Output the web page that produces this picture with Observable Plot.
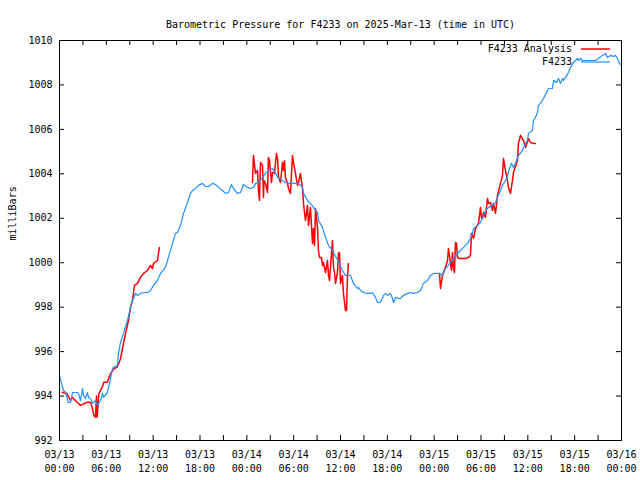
<!DOCTYPE html>
<html><head><meta charset="utf-8">
<script src="https://cdn.jsdelivr.net/npm/d3@7"></script>
<script src="https://cdn.jsdelivr.net/npm/@observablehq/plot@0.6"></script>
<style>body{margin:0;background:#fff}svg{display:block}</style>
</head><body><div id="chart"></div>
<script>
const title = "Barometric Pressure for F4233 on 2025-Mar-13 (time in UTC)";
const yLabel = "milliBars";
const seriesNames = ["F4233 Analysis", "F4233"];
const seriesColors = ["#ff0000", "#1e90ff"];
const yTicks = [992, 994, 996, 998, 1000, 1002, 1004, 1006, 1008, 1010];
const startTime = "2025-03-13T00:00:00Z";
const endTime = "2025-03-16T00:00:00Z";

// [hours since start, millibars]
const obs = [
[0,994.93],[0.51,994.25],[0.77,994.16],[1.15,993.71],[1.41,993.71],[1.67,994.16],[2.31,994.16],[2.43,994.12],[2.69,993.8],[2.95,994.34],[3.07,994.03],[3.33,993.89],[3.59,994.16],[3.72,993.94],[3.97,993.89],[4.23,993.67],[4.61,993.8],[4.87,993.58],[5.25,993.8],[5.51,994.12],[5.64,993.94],[6.15,994.16],[6.28,994.39],[6.53,994.79],[6.79,995.24],[6.92,995.29],[7.43,995.38],[7.56,995.92],[7.81,996.41],[8.2,996.82],[8.71,997.4],[9.1,997.99],[9.35,998.3],[9.74,998.62],[9.99,998.53],[10.38,998.62],[10.76,998.66],[11.27,998.66],[11.66,998.75],[12.04,998.98],[12.55,999.2],[12.94,999.52],[13.58,999.79],[13.96,1000.24],[14.48,1000.87],[14.86,1001.32],[15.12,1001.36],[15.5,1001.68],[15.89,1002.22],[16.4,1002.71],[16.78,1003.12],[17.04,1003.25],[17.42,1003.34],[17.81,1003.48],[18.32,1003.57],[18.7,1003.43],[19.09,1003.43],[19.6,1003.57],[19.98,1003.52],[20.37,1003.39],[20.88,1003.25],[21.27,1003.12],[21.65,1003.16],[22.03,1003.52],[22.29,1003.34],[22.8,1003.12],[23.19,1003.16],[23.57,1003.52],[24.08,1003.39],[24.47,1003.34],[24.85,1003.39],[25.11,1003.57],[25.49,1003.61],[26.01,1003.84],[26.39,1004.02],[26.77,1004.15],[27.29,1004.24],[27.67,1004.02],[28.06,1003.79],[28.57,1003.7],[28.95,1003.61],[29.34,1003.57],[29.85,1003.57],[30.23,1003.57],[30.62,1003.57],[31.13,1003.39],[31.26,1003.12],[31.77,1002.8],[32.15,1002.67],[32.54,1002.49],[33.05,1002.26],[33.18,1001.9],[33.69,1001.59],[34.08,1001.14],[34.46,1000.78],[34.97,1000.55],[35.36,1000.28],[35.74,1000.06],[36.25,999.65],[36.64,999.43],[37.28,999.43],[37.66,999.07],[38.18,998.84],[38.3,998.89],[38.56,998.75],[38.94,998.66],[39.46,998.62],[39.84,998.62],[40.1,998.66],[40.48,998.44],[40.74,998.21],[41.12,998.21],[41.51,998.53],[41.76,998.62],[42.02,998.53],[42.4,998.62],[42.66,998.39],[42.79,998.21],[43.04,998.44],[43.43,998.39],[43.68,998.39],[44.07,998.53],[44.58,998.62],[44.97,998.66],[45.35,998.62],[45.86,998.66],[46.25,998.75],[46.63,999.07],[47.14,999.2],[47.53,999.43],[47.91,999.52],[48.43,999.52],[48.68,999.52],[49.07,999.43],[49.45,999.74],[49.83,999.88],[50.09,1000.01],[50.47,1000.19],[50.99,1000.42],[51.37,1000.55],[51.76,1000.69],[52.27,1000.87],[52.65,1001.09],[52.91,1001.32],[53.04,1001.54],[53.55,1001.68],[53.93,1001.81],[54.32,1002.13],[54.57,1002.35],[54.96,1002.49],[55.47,1002.58],[55.86,1002.71],[56.11,1002.94],[56.5,1003.25],[56.75,1003.48],[57.14,1003.7],[57.39,1003.93],[57.65,1004.24],[57.9,1004.47],[58.16,1004.29],[58.42,1004.47],[58.8,1004.83],[59.31,1005.05],[59.7,1005.37],[59.95,1005.5],[60.08,1005.82],[60.59,1005.95],[60.72,1006.4],[60.98,1006.54],[61.24,1006.76],[61.36,1007.08],[61.62,1007.17],[62.0,1007.39],[62.52,1007.75],[62.64,1007.84],[63.16,1007.84],[63.29,1008.2],[63.67,1008.11],[63.93,1008.29],[64.18,1008.07],[64.44,1008.29],[64.57,1008.2],[64.82,1008.34],[65.21,1008.56],[65.46,1008.79],[65.85,1009.01],[66.36,1009.19],[66.49,1009.1],[66.74,1009.19],[67.0,1009.1],[67.38,1009.1],[67.77,1009.1],[68.28,1009.1],[68.66,1009.1],[69.05,1009.19],[69.56,1009.33],[69.95,1009.42],[70.2,1009.24],[70.59,1009.33],[70.97,1009.28],[71.23,1009.33],[71.48,1009.19],[71.74,1008.97],[72.0,1008.88]
];

const analysis1 = [
[0.34,994.17],[0.98,994.1],[1.41,993.8],[1.62,993.95],[1.84,993.87],[2.26,993.72],[2.69,993.58],[3.12,993.65],[3.54,993.72],[3.97,993.72],[4.18,993.5],[4.4,993.13],[4.61,993.05],[4.74,994.0],[4.82,993.05],[5.04,994.1],[5.47,994.4],[5.68,994.62],[6.11,994.62],[6.53,995.0],[6.96,995.22],[7.39,995.3],[7.81,995.67],[8.07,996.14],[8.46,996.82],[8.84,997.4],[9.1,997.99],[9.35,998.3],[9.48,998.66],[9.61,998.98],[9.99,999.07],[10.38,999.34],[10.76,999.52],[11.27,999.65],[11.66,999.88],[11.91,999.74],[12.04,999.97],[12.55,1000.1],[12.68,1000.42],[12.81,1000.69]
];
const analysis2 = [
[24.72,1003.61],[24.85,1004.83],[25.11,1004.02],[25.37,1004.15],[25.49,1003.25],[25.62,1002.8],[25.75,1004.51],[26.01,1004.38],[26.13,1002.94],[26.2,1003.7],[26.39,1003.57],[26.65,1003.16],[26.77,1004.74],[26.9,1004.6],[27.16,1003.61],[27.29,1004.06],[27.54,1004.02],[27.8,1004.92],[27.93,1004.69],[28.06,1003.84],[28.31,1003.61],[28.57,1004.51],[28.7,1004.15],[28.82,1004.6],[28.95,1003.84],[29.21,1003.57],[29.34,1003.34],[29.59,1003.12],[29.85,1004.83],[29.98,1004.51],[30.23,1004.02],[30.49,1003.48],[30.62,1003.61],[30.87,1004.02],[31.13,1003.34],[31.26,1002.67],[31.51,1001.9],[31.77,1002.58],[31.9,1001.68],[32.15,1002.49],[32.41,1000.87],[32.54,1001.54],[32.67,1000.78],[32.8,1002.44],[33.05,1001.59],[33.18,1000.55],[33.31,1000.24],[33.56,1000.24],[33.69,999.88],[33.82,1000.01],[34.08,999.56],[34.33,1000.1],[34.46,999.43],[34.59,999.2],[34.85,1000.42],[34.97,1001.0],[35.1,999.79],[35.23,999.56],[35.36,999.07],[35.61,999.56],[35.74,1000.42],[35.87,1000.46],[36.0,999.07],[36.25,999.43],[36.38,998.62],[36.64,997.85],[36.77,997.85],[36.89,999.34],[37.02,999.97]
];
const analysis3 = [
[48.68,999.52],[48.81,998.84],[49.07,999.43],[49.19,999.56],[49.45,999.79],[49.71,1000.1],[49.83,1000.64],[49.96,1000.33],[50.22,999.65],[50.35,1000.46],[50.47,999.79],[50.6,999.56],[50.73,1000.91],[50.86,1000.87],[50.99,1000.24],[51.24,1000.19],[51.63,1000.19],[52.01,1000.19],[52.4,1000.24],[52.65,1000.33],[52.78,1001.32],[53.04,1001.09],[53.29,1001.54],[53.68,1001.77],[53.93,1002.49],[54.06,1002.04],[54.19,1001.99],[54.32,1002.26],[54.57,1002.04],[54.83,1002.89],[54.96,1002.67],[55.21,1002.71],[55.47,1002.35],[55.6,1002.67],[55.86,1002.22],[56.11,1003.03],[56.5,1003.57],[56.75,1003.93],[56.88,1004.69],[57.14,1004.15],[57.39,1003.7],[57.52,1003.39],[57.78,1003.12],[58.03,1003.7],[58.16,1004.06],[58.67,1004.6],[58.8,1005.37],[59.06,1005.73],[59.44,1005.5],[59.7,1005.19],[60.08,1005.59],[60.34,1005.41],[60.72,1005.37],[60.98,1005.37]
];

const font = "DejaVu Sans Mono";
const t0 = new Date(startTime), t1 = new Date(endTime);
const toDate = h => new Date(+t0 + h * 3600e3);
const obsData = obs.map(([h, v]) => ({t: toDate(h), v}));
const anaData = [analysis1, analysis2, analysis3].flatMap((seg, i) => seg.map(([h, v]) => ({t: toDate(h), v, seg: i})));
const majorTicks = d3.utcHour.every(6).range(t0, new Date(+t1 + 1));
const minorTicks = d3.utcHour.every(3).range(t0, new Date(+t1 + 1));
const fmt = d => d3.utcFormat("%m/%d")(d) + "\n" + d3.utcFormat("%H:%M")(d);
const widths = [1.5, 1.2];

function legend(index, scales, values, dims) {
  const g = d3.create("svg:g").attr("font-family", font).attr("font-size", 10);
  const xr = dims.width - dims.marginRight;
  seriesNames.forEach((name, i) => {
    const y = dims.marginTop + 9 + i * 13;
    g.append("text").attr("x", xr - 49).attr("y", y).attr("dy", "0.32em")
      .attr("text-anchor", "end").attr("fill", "black").text(name);
    g.append("line").attr("x1", xr - 40).attr("x2", xr - 11).attr("y1", y).attr("y2", y)
      .attr("stroke", seriesColors[i]).attr("stroke-width", widths[i]);
  });
  return g.node();
}

const chart = Plot.plot({
  width: 640, height: 480,
  marginLeft: 59, marginRight: 19, marginTop: 40, marginBottom: 40,
  style: {fontFamily: font, fontSize: "10px", background: "#fff", color: "black", overflow: "visible"},
  x: {type: "utc", domain: [t0, t1], axis: null},
  y: {domain: [992, 1010], axis: null},
  marks: [
    Plot.tickX(minorTicks, {x: d => d, insetTop: 395, stroke: "black"}),
    Plot.tickX(minorTicks, {x: d => d, insetBottom: 395, stroke: "black"}),
    Plot.tickY(yTicks, {y: d => d, insetRight: 557, stroke: "black"}),
    Plot.tickY(yTicks, {y: d => d, insetLeft: 557, stroke: "black"}),
    Plot.text(majorTicks, {x: d => d, text: fmt, frameAnchor: "bottom", lineAnchor: "top", dy: 8, lineHeight: 1.4, fill: "black"}),
    Plot.text(yTicks, {y: d => d, text: d => String(d), frameAnchor: "left", textAnchor: "end", dx: -7, fill: "black"}),
    Plot.text([yLabel], {frameAnchor: "left", dx: -47, rotate: -90, fill: "black"}),
    Plot.text([title], {frameAnchor: "top", dy: -20, fill: "black"}),
    Plot.line(anaData, {x: "t", y: "v", z: "seg", stroke: seriesColors[0], strokeWidth: widths[0]}),
    Plot.line(obsData, {x: "t", y: "v", stroke: seriesColors[1], strokeWidth: widths[1]}),
    Plot.frame({stroke: "black"}),
    legend
  ]
});
document.getElementById("chart").append(chart);
</script>
</body></html>
